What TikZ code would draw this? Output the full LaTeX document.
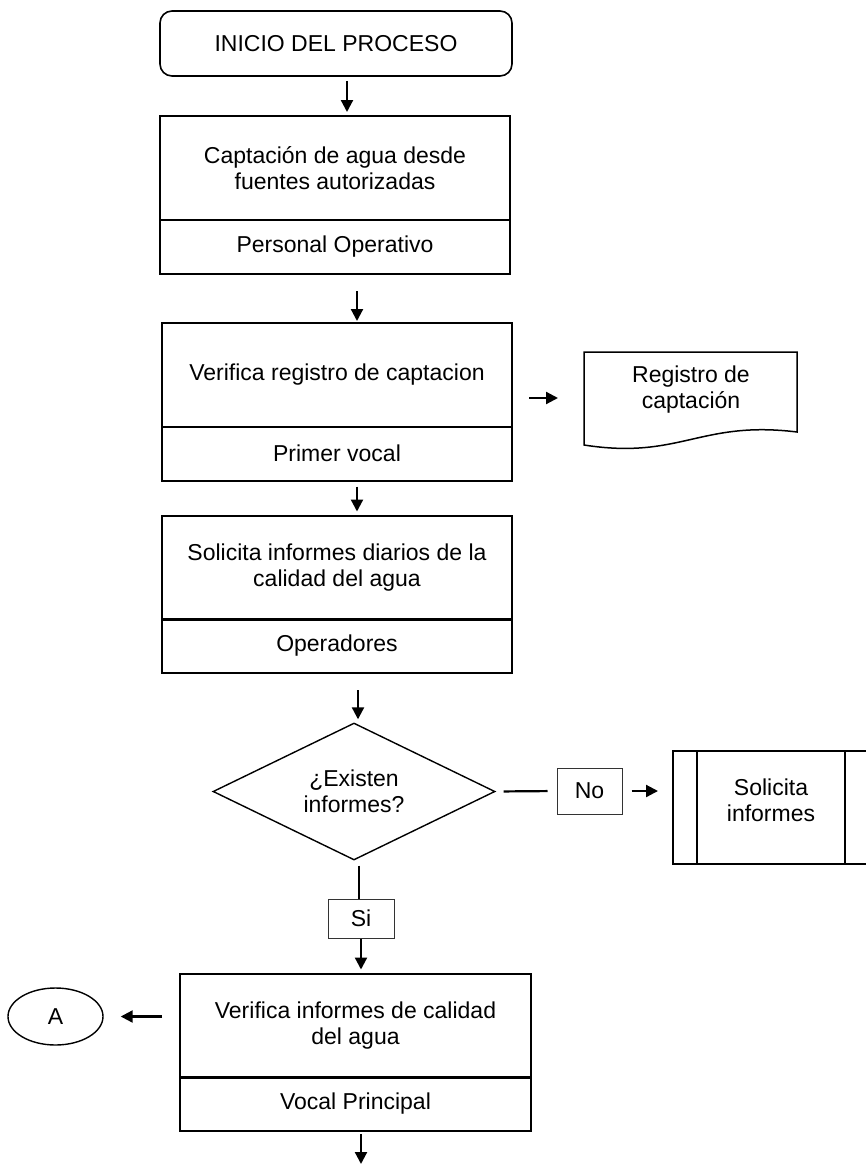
\documentclass[tikz,border=0pt]{standalone}
\usepackage{fontspec}
\setmainfont{Liberation Sans}
\usetikzlibrary{shapes.geometric, arrows.meta}

\begin{document}
\begin{tikzpicture}[x=1pt, y=-1pt,
    every node/.style={font=\fontsize{23}{26}\selectfont, align=center},
    tarea/.style={draw, line width=2pt, minimum width=350pt, minimum height=104pt, inner sep=0pt},
    rol/.style={draw, line width=2pt, minimum width=350pt, minimum height=54pt, inner sep=0pt},
    etiq/.style={draw=black!80, line width=1pt, inner sep=0pt},
    arr/.style={line width=2.2pt, -{Triangle[length=12pt, width=12pt]}},
    linea/.style={line width=2.2pt}]
    \useasboundingbox (0,0) rectangle (866,1165);

    \node[draw, rounded corners=12pt, line width=1.6pt, minimum width=352pt, minimum height=65pt] (inicio) at (336,43.5) {INICIO DEL PROCESO};

    \node[tarea] (capta) at (335,168) {Captaci\'on de agua desde\\fuentes autorizadas};
    \node[rol] (captar) at (335,247) {Personal Operativo};

    \node[tarea] (verif) at (337,375) {Verifica registro de captacion};
    \node[rol] (verifr) at (337,453.5) {Primer vocal};

    \draw[line width=1.5pt] (584,445) -- (584,352) -- (797,352) -- (797,432)
        .. controls (700,420) and (680,460) .. (584,445) -- cycle;
    \node (registro) at (691,390) {Registro de\\captaci\'on};
    \coordinate (regent) at (558,398);

    \node[tarea] (solic) at (337,567.5) {Solicita informes diarios de la\\calidad del agua};
    \node[rol] (solicr) at (337,646) {Operadores};

    \node[diamond, draw, line width=1.4pt, aspect=2, minimum width=282pt, minimum height=137pt, inner sep=0pt] (existen) at (354,791.5) {¿Existen\\informes?};
    \node[etiq, minimum width=65pt, minimum height=46pt] (no) at (589.5,791) {No};
    \node[draw, line width=2pt, minimum width=196pt, minimum height=113pt] (solinf) at (771,807.5) {};
    \node (solinft) at (771,800) {Solicita\\informes};
    \draw[line width=2pt] ([xshift=25pt]solinf.north west) -- ([xshift=25pt]solinf.south west);
    \draw[line width=2pt] ([xshift=-25pt]solinf.north east) -- ([xshift=-25pt]solinf.south east);

    \node[etiq, minimum width=66pt, minimum height=39pt] (si) at (361,918.5) {Si};

    \node[tarea, minimum width=351pt] (vinf) at (355.5,1025.5) {Verifica informes de calidad\\del agua};
    \node[rol, minimum width=351pt] (vinfr) at (355.5,1104) {Vocal Principal};
    \node[ellipse, draw, line width=1.4pt, minimum width=95pt, minimum height=57pt] (conA) at (55.5,1016.5) {A};
    \coordinate (fin) at (361,1164);

    \draw[arr, shorten <=4pt, shorten >=3pt] ([xshift=11pt]inicio.south) -- ([xshift=12pt]capta.north);
    \draw[arr, shorten <=16pt, shorten >=1pt] ([xshift=22pt]captar.south) -- ([xshift=20pt]verif.north);
    \draw[arr, shorten <=16pt] (verif.east |- regent) -- (regent);
    \draw[arr, shorten <=5pt, shorten >=3pt] ([xshift=20pt]verifr.south) -- ([xshift=20pt]solic.north);
    \draw[arr, shorten <=16pt, shorten >=3pt] ([xshift=21pt]solicr.south) -- ([xshift=4pt]existen.north);
    \draw[linea, shorten <=8pt, shorten >=9pt] (existen.east) -- (no.west);
    \draw[arr, shorten <=9pt, shorten >=14pt] (no.east) -- (no.east -| solinf.west);
    \draw[linea, shorten <=5pt] ([xshift=5pt]existen.south) -- ([xshift=-2pt]si.north);
    \draw[arr, shorten >=3pt] (si.south) -- ([xshift=5.5pt]vinf.north);
    \draw[arr, shorten <=17pt, shorten >=17pt] (vinf.west |- conA.east) -- (conA.east);
    \draw[arr, shorten <=2pt] ([xshift=5.5pt]vinfr.south) -- (fin);
\end{tikzpicture}
\end{document}
